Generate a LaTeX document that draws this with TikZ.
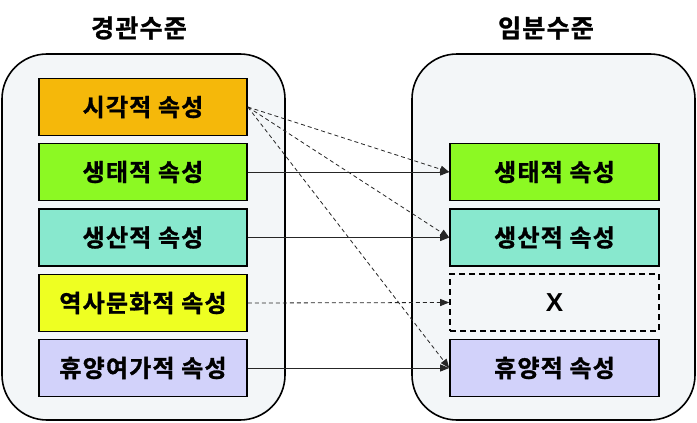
\documentclass[tikz,border=0pt]{standalone}
\usepackage{fontspec}
\newfontfamily\kr[FakeBold=1.2,LetterSpace=5]{Noto Sans CJK KR Bold}
\newfontfamily\lsans{Liberation Sans}
\usetikzlibrary{arrows.meta}
\definecolor{cont}{HTML}{F3F6F8}
\definecolor{corange}{HTML}{F5B80A}
\definecolor{cgreen}{HTML}{8CF923}
\definecolor{caqua}{HTML}{88E8CE}
\definecolor{cyellow}{HTML}{EEFF22}
\definecolor{clav}{HTML}{D2D2FA}
\tikzset{
  container/.style={draw=black, line width=1.6pt, fill=cont, rounded corners=45pt},
  attr/.style={draw=black, line width=1.6pt, minimum width=208pt, minimum height=57pt, font=\kr\fontsize{24}{26}\selectfont, inner sep=0pt},
  title/.style={font=\kr\fontsize{25}{28}\selectfont},
  solidarrow/.style={-{Triangle[length=9pt,width=7pt]}, line width=0.8pt, draw=black!85},
  dasharrow/.style={-{Triangle[length=9pt,width=7pt]}, line width=0.8pt, draw=black!85, dash pattern=on 4pt off 3pt},
}
\begin{document}
\begin{tikzpicture}[x=1pt,y=-1pt]
\useasboundingbox (0,0) rectangle (697,423);
\fill[white] (0,0) rectangle (697,423);
\draw[container] (2,54) rectangle (285,420);
\draw[container] (412,54) rectangle (695,420);
\node[title] (t1) at (139,28) {경관수준};
\node[title] (t2) at (546,28) {임분수준};
\node[attr, fill=corange] (l1) at (143,107) {시각적 속성};
\node[attr, fill=cgreen] (l2) at (143,172) {생태적 속성};
\node[attr, fill=caqua] (l3) at (143,237.5) {생산적 속성};
\node[attr, fill=cyellow] (l4) at (143,303) {역사문화적 속성};
\node[attr, fill=clav] (l5) at (143,368) {휴양여가적 속성};
\node[attr, fill=cgreen, minimum width=209pt] (r1) at (554.5,172) {생태적 속성};
\node[attr, fill=caqua, minimum width=209pt] (r2) at (554.5,237.5) {생산적 속성};
\node[attr, fill=cont, dash pattern=on 6pt off 4pt, minimum width=209pt, font=\lsans\bfseries\fontsize{26}{28}\selectfont] (r3) at (554.5,302.5) {X};
\node[attr, fill=clav, minimum width=209pt] (r4) at (554.5,368) {휴양적 속성};
\draw[solidarrow] (l2.east) -- (r1.west);
\draw[solidarrow] (l3.east) -- (r2.west);
\draw[dasharrow] (l4.east) -- (r3.west);
\draw[solidarrow] (l5.east) -- (r4.west);
\draw[dasharrow] (l1.east) -- (r1.west);
\draw[dasharrow] (l1.east) -- (r2.west);
\draw[dasharrow] (l1.east) -- (r4.west);
\end{tikzpicture}
\end{document}
